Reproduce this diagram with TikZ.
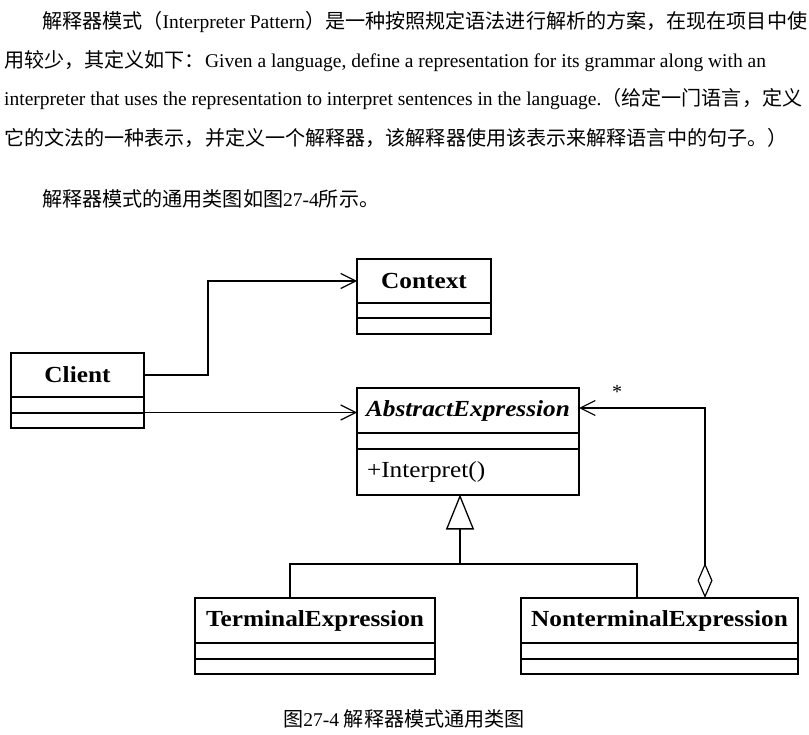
\documentclass[tikz,border=0pt]{standalone}
\usepackage{fontspec}
\setmainfont{Liberation Serif}
\newfontfamily\cjk[Scale=1.03]{Noto Sans CJK SC}
\newfontfamily\umlfont[FakeStretch=1.1]{Liberation Serif}
\newcommand{\zh}[1]{{\cjk #1}}
\usetikzlibrary{positioning,arrows.meta}
\tikzset{cls/.style={draw,line width=2pt,inner sep=0pt,outer sep=0pt,minimum height=44pt,minimum width=#1,font=\umlfont\fontsize{23}{24}\selectfont\bfseries}}
\tikzset{slot/.style={draw,line width=2pt,inner sep=0pt,outer sep=0pt,minimum height=15.5pt,minimum width=#1}}
\tikzset{para/.style={anchor=base west,inner sep=0pt,font=\fontsize{19.5}{20}\selectfont}}
\tikzset{assoc/.style={line width=1.2pt,-{Straight Barb[length=15pt,width=15pt]}}}
\tikzset{gen/.style={line width=2.2pt,-{Triangle[open,length=35pt,width=28pt,line width=1.3pt]}}}
\tikzset{agg/.style={line width=1.2pt,{Diamond[open,length=35pt,width=15pt]}-{Straight Barb[length=15pt,width=15pt]}}}

\begin{document}
\begin{tikzpicture}[x=1pt,y=1pt]
\fill[white] (0,0) rectangle (809,-735);
\useasboundingbox (0,0) rectangle (809,-735);

% text above the diagram
\node[para] (p1) at (42,-28.5) {\zh{解释器模式（}Interpreter Pattern\zh{）是一种按照规定语法进行解析的方案，在现在项目中使}};
\node[para] (p2) at (4,-67.5) {\zh{用较少，其定义如下：}Given a language, define a representation for its grammar along with an};
\node[para] (p3) at (4,-106) {interpreter that uses the representation to interpret sentences in the language.\zh{（给定一门语言，定义}};
\node[para] (p4) at (4,-146) {\zh{它的文法的一种表示，并定义一个解释器，该解释器使用该表示来解释语言中的句子。）}};
\node[para] (p5) at (42,-206.5) {\zh{解释器模式的通用类图如图}27-4\zh{所示。}};

% classes
\node[cls=133pt] (client) at (77.5,-375) {Client};
\node[slot=133pt,below=0pt of client] (client-a) {};
\node[slot=133pt,below=0pt of client-a] (client-o) {};

\node[cls=134pt] (ctx) at (424,-281) {Context};
\node[slot=134pt,below=0pt of ctx] (ctx-a) {};
\node[slot=134pt,below=0pt of ctx-a] (ctx-o) {};

\node[cls=222pt,minimum height=45pt,font=\umlfont\fontsize{23}{24}\selectfont\bfseries\itshape] (abs) at (468,-410.5) {AbstractExpression};
\node[slot=222pt,below=0pt of abs] (abs-a) {};
\node[slot=222pt,minimum height=46pt,text width=202pt,align=left,font=\umlfont\fontsize{23}{24}\selectfont,below=0pt of abs-a] (abs-o) {+Interpret()};

\node[cls=240pt,minimum height=45pt] (term) at (315,-620.5) {TerminalExpression};
\node[slot=240pt,below=0pt of term] (term-a) {};
\node[slot=240pt,below=0pt of term-a] (term-o) {};

\node[cls=277pt,minimum height=45pt] (nterm) at (659.5,-620.5) {NonterminalExpression};
\node[slot=277pt,below=0pt of nterm] (nterm-a) {};
\node[slot=277pt,below=0pt of nterm-a] (nterm-o) {};

% connectors
\draw[assoc] (client.east) -- ++(64,0) |- (ctx.west);
\draw[assoc] (client-a.south east) -- (client-a.south east -| abs.west);

\coordinate (fork) at (460,-564);
\coordinate (tleg) at (290,-564);
\coordinate (nleg) at (637,-564);
\draw[gen] (fork) -- (fork |- abs-o.south);
\draw[line width=1.2pt] (tleg |- term.north) -- (tleg) -- (nleg) -- (nleg |- nterm.north);

\coordinate (aggbend) at (705,-408);
\draw[agg] (aggbend |- nterm.north) -- (aggbend) -- (aggbend -| abs.east);
\node[anchor=base,inner sep=0pt,font=\fontsize{20}{20}\selectfont] (mult) at (617,-399) {*};

\node[para,anchor=base] (cap) at (404,-726.5) {\zh{图}27-4 \zh{解释器模式通用类图}};
\end{tikzpicture}
\end{document}
